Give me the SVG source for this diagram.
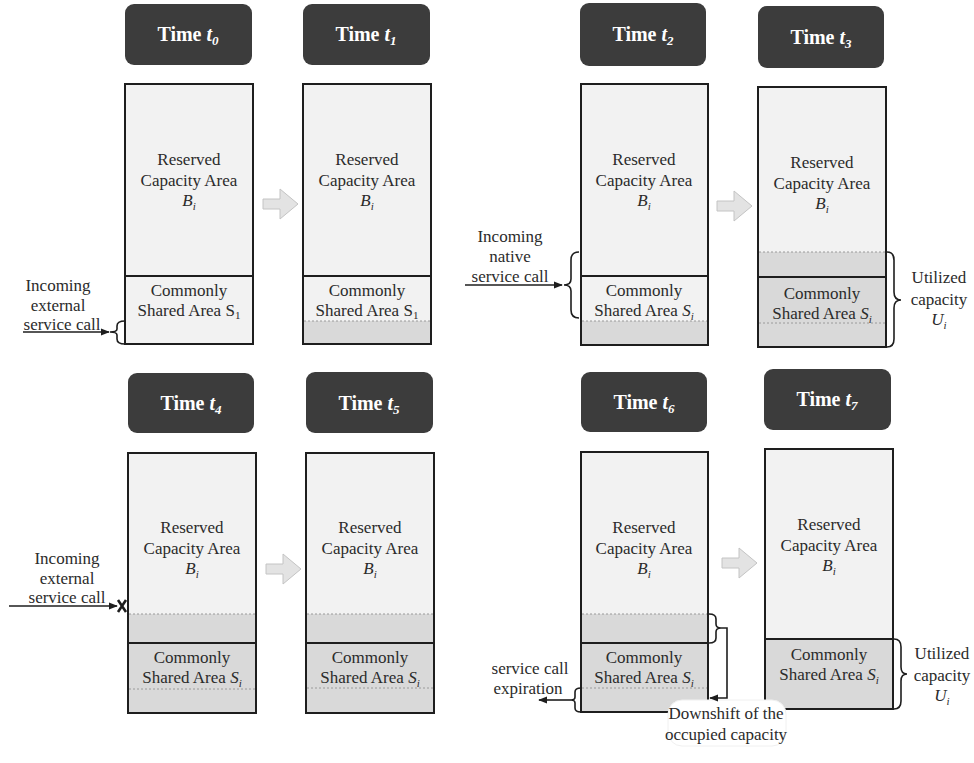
<svg xmlns="http://www.w3.org/2000/svg" width="974" height="763" viewBox="0 0 974 763">
<defs>
<style>
text{font-family:'Liberation Serif','Times New Roman','DejaVu Serif',serif;fill:#2b2b2b;font-size:17px;text-anchor:middle}
.hd{fill:#3c3c3c}
.ht{fill:#ffffff;font-size:20px;font-weight:bold}
.col{fill:#f2f2f2;stroke:#1e1e1e;stroke-width:2}
.gr{fill:#d9d9d9;stroke:none}
.div{stroke:#1e1e1e;stroke-width:2;fill:none}
.dash{stroke:#9a9a9a;stroke-width:1;stroke-dasharray:2 2;fill:none}
.bar{fill:#e3e3e3;stroke:#c4c4c4;stroke-width:1}
.ln{stroke:#1e1e1e;stroke-width:1.6;fill:none}
.it{font-style:italic}
</style>
<marker id="ah" viewBox="0 0 10 10" refX="9" refY="5" markerWidth="9" markerHeight="9" markerUnits="userSpaceOnUse" orient="auto">
<path d="M0,1 L10,5 L0,9 Z" fill="#1e1e1e"/>
</marker>
</defs>
<rect width="974" height="763" fill="#ffffff"/>

<g id="t0">
<rect class="hd" x="125" y="4" width="127" height="61" rx="9"/>
<text class="ht" x="188" y="41" font-family="Liberation Serif, serif">Time <tspan class="it">t</tspan><tspan class="it" font-size="13" dy="4">0</tspan></text>
<rect class="col" x="125" y="84" width="128" height="260"/>
<line class="div" x1="125" y1="276" x2="253" y2="276"/>
<text x="189" y="165">Reserved</text>
<text x="189" y="186">Capacity Area</text>
<text x="189" y="206"><tspan class="it">B</tspan><tspan class="it" font-size="11" dy="4">i</tspan></text>
<text x="189" y="296">Commonly</text>
<text x="189" y="316">Shared Area S<tspan font-size="11" dy="3">1</tspan></text>
</g>

<g id="t1">
<rect class="hd" x="303" y="4" width="127" height="61" rx="9"/>
<text class="ht" x="366" y="41">Time <tspan class="it">t</tspan><tspan class="it" font-size="13" dy="4">1</tspan></text>
<rect class="col" x="303" y="84" width="128" height="260"/>
<rect class="gr" x="304" y="321" width="126" height="22"/>
<line class="dash" x1="304" y1="321" x2="430" y2="321"/>
<line class="div" x1="303" y1="276" x2="431" y2="276"/>
<text x="367" y="165">Reserved</text>
<text x="367" y="186">Capacity Area</text>
<text x="367" y="206"><tspan class="it">B</tspan><tspan class="it" font-size="11" dy="4">i</tspan></text>
<text x="367" y="296">Commonly</text>
<text x="367" y="316">Shared Area S<tspan font-size="11" dy="3">1</tspan></text>
</g>

<g id="t2">
<rect class="hd" x="580" y="3" width="126" height="63" rx="9"/>
<text class="ht" x="643" y="41">Time <tspan class="it">t</tspan><tspan class="it" font-size="13" dy="4">2</tspan></text>
<rect class="col" x="581" y="84" width="127" height="261"/>
<rect class="gr" x="582" y="321" width="125" height="23"/>
<line class="dash" x1="582" y1="321" x2="707" y2="321"/>
<line class="div" x1="581" y1="276" x2="708" y2="276"/>
<text x="644" y="165">Reserved</text>
<text x="644" y="186">Capacity Area</text>
<text x="644" y="206"><tspan class="it">B</tspan><tspan class="it" font-size="11" dy="4">i</tspan></text>
<text x="644" y="296">Commonly</text>
<text x="644" y="316">Shared Area <tspan class="it">S</tspan><tspan class="it" font-size="11" dy="4">i</tspan></text>
</g>

<g id="t3">
<rect class="hd" x="758" y="6" width="126" height="62" rx="9"/>
<text class="ht" x="821" y="44">Time <tspan class="it">t</tspan><tspan class="it" font-size="13" dy="4">3</tspan></text>
<rect class="col" x="758" y="87" width="128" height="260"/>
<rect class="gr" x="759" y="252" width="126" height="94"/>
<line class="dash" x1="759" y1="252" x2="885" y2="252"/>
<line class="dash" x1="759" y1="323" x2="885" y2="323"/>
<line class="div" x1="758" y1="277" x2="886" y2="277"/>
<text x="822" y="168">Reserved</text>
<text x="822" y="189">Capacity Area</text>
<text x="822" y="209"><tspan class="it">B</tspan><tspan class="it" font-size="11" dy="4">i</tspan></text>
<text x="822" y="299">Commonly</text>
<text x="822" y="319">Shared Area <tspan class="it">S</tspan><tspan class="it" font-size="11" dy="4">i</tspan></text>
</g>

<g id="t4">
<rect class="hd" x="128" y="373" width="126" height="60" rx="9"/>
<text class="ht" x="191" y="410">Time <tspan class="it">t</tspan><tspan class="it" font-size="13" dy="4">4</tspan></text>
<rect class="col" x="128" y="453" width="128" height="260"/>
<rect class="gr" x="129" y="614" width="126" height="98"/>
<line class="dash" x1="129" y1="614" x2="255" y2="614"/>
<line class="dash" x1="129" y1="689" x2="255" y2="689"/>
<line class="div" x1="128" y1="643" x2="256" y2="643"/>
<text x="192" y="533">Reserved</text>
<text x="192" y="554">Capacity Area</text>
<text x="192" y="574"><tspan class="it">B</tspan><tspan class="it" font-size="11" dy="4">i</tspan></text>
<text x="192" y="663">Commonly</text>
<text x="192" y="683">Shared Area <tspan class="it">S</tspan><tspan class="it" font-size="11" dy="4">i</tspan></text>
</g>

<g id="t5">
<rect class="hd" x="306" y="372" width="127" height="61" rx="9"/>
<text class="ht" x="369" y="410">Time <tspan class="it">t</tspan><tspan class="it" font-size="13" dy="4">5</tspan></text>
<rect class="col" x="306" y="453" width="128" height="260"/>
<rect class="gr" x="307" y="614" width="126" height="98"/>
<line class="dash" x1="307" y1="614" x2="433" y2="614"/>
<line class="dash" x1="307" y1="688" x2="433" y2="688"/>
<line class="div" x1="306" y1="643" x2="434" y2="643"/>
<text x="370" y="533">Reserved</text>
<text x="370" y="554">Capacity Area</text>
<text x="370" y="574"><tspan class="it">B</tspan><tspan class="it" font-size="11" dy="4">i</tspan></text>
<text x="370" y="663">Commonly</text>
<text x="370" y="683">Shared Area <tspan class="it">S</tspan><tspan class="it" font-size="11" dy="4">i</tspan></text>
</g>

<g id="t6">
<rect class="hd" x="581" y="372" width="126" height="60" rx="9"/>
<text class="ht" x="644" y="409">Time <tspan class="it">t</tspan><tspan class="it" font-size="13" dy="4">6</tspan></text>
<rect class="col" x="581" y="452" width="127" height="260"/>
<rect class="gr" x="582" y="614" width="125" height="97"/>
<line class="dash" x1="582" y1="614" x2="707" y2="614"/>
<line class="dash" x1="582" y1="688" x2="707" y2="688"/>
<line class="div" x1="581" y1="643" x2="708" y2="643"/>
<text x="644" y="533">Reserved</text>
<text x="644" y="554">Capacity Area</text>
<text x="644" y="574"><tspan class="it">B</tspan><tspan class="it" font-size="11" dy="4">i</tspan></text>
<text x="644" y="663">Commonly</text>
<text x="644" y="683">Shared Area <tspan class="it">S</tspan><tspan class="it" font-size="11" dy="4">i</tspan></text>
</g>

<g id="t7">
<rect class="hd" x="764" y="369" width="127" height="61" rx="9"/>
<text class="ht" x="827" y="406">Time <tspan class="it">t</tspan><tspan class="it" font-size="13" dy="4">7</tspan></text>
<rect class="col" x="765" y="449" width="128" height="260"/>
<rect class="gr" x="766" y="639" width="126" height="69"/>
<line class="div" x1="765" y1="639" x2="893" y2="639"/>
<text x="829" y="530">Reserved</text>
<text x="829" y="551">Capacity Area</text>
<text x="829" y="571"><tspan class="it">B</tspan><tspan class="it" font-size="11" dy="4">i</tspan></text>
<text x="829" y="660">Commonly</text>
<text x="829" y="680">Shared Area <tspan class="it">S</tspan><tspan class="it" font-size="11" dy="4">i</tspan></text>
</g>

<g id="ann-t0">
<text x="58" y="291">Incoming</text>
<text x="58" y="311">external</text>
<text x="62" y="330">service call</text>
</g>
<g id="ann-t2">
<text x="510" y="242">Incoming</text>
<text x="510" y="262">native</text>
<text x="510" y="282">service call</text>
</g>
<g id="ann-t3">
<text x="939" y="283">Utilized</text>
<text x="939" y="305">capacity</text>
<text x="939" y="325"><tspan class="it">U</tspan><tspan class="it" font-size="11" dy="4">i</tspan></text>
</g>
<g id="ann-t4">
<text x="67" y="564">Incoming</text>
<text x="67" y="584">external</text>
<text x="67" y="603">service call</text>
</g>
<g id="ann-t6">
<rect x="668" y="700" width="118" height="46" rx="14" fill="#ffffff" stroke="#f0f0f0" stroke-width="1"/>
<text x="530" y="674">service call</text>
<text x="528" y="694">expiration</text>
<text x="726" y="719">Downshift of the</text>
<text x="726" y="740">occupied capacity</text>
</g>
<g id="ann-t7">
<text x="942" y="659">Utilized</text>
<text x="942" y="681">capacity</text>
<text x="942" y="701"><tspan class="it">U</tspan><tspan class="it" font-size="11" dy="4">i</tspan></text>
</g>

<g id="connectors">
<path class="bar" d="M263,199 L280,199 L280,189 L298,204 L280,219 L280,209 L263,209 Z"/>
<path class="bar" d="M717,201 L734,201 L734,191 L752,206 L734,221 L734,211 L717,211 Z"/>
<path class="bar" d="M266,564 L283,564 L283,554 L301,569 L283,584 L283,574 L266,574 Z"/>
<path class="bar" d="M722,558 L739,558 L739,548 L757,563 L739,578 L739,568 L722,568 Z"/>

<line class="ln" x1="23" y1="332" x2="109" y2="332" marker-end="url(#ah)"/>
<path class="ln" d="M125,321 Q117,321 117,326 L117,329 Q117,332 110,332 Q117,332 117,335 L117,339 Q117,344 125,344"/>

<line class="ln" x1="465" y1="285" x2="562" y2="285" marker-end="url(#ah)"/>
<path class="ln" d="M579,252 Q571,252 571,260 L571,279 Q571,285 564,285 Q571,285 571,291 L571,310 Q571,318 579,318"/>

<path class="ln" d="M887,252 Q894,252 894,260 L894,292 Q894,300 901,300 Q894,300 894,308 L894,339 Q894,347 887,347"/>

<line class="ln" x1="9" y1="606" x2="117" y2="606" marker-end="url(#ah)"/>
<path d="M118,600 L126,612 M126,600 L118,612" stroke="#1e1e1e" stroke-width="2.6" fill="none"/>

<path class="ln" d="M581,688 Q575,688 575,692 L575,697 Q575,700 571,700 Q575,700 575,703 L575,708 Q575,712 581,712"/>
<line class="ln" x1="571" y1="700" x2="539" y2="700" marker-end="url(#ah)"/>

<path class="ln" d="M709,614 Q716,614 716,619 L716,624 Q716,628 721,628 Q716,628 716,632 L716,638 Q716,643 709,643"/>
<path class="ln" d="M721,628 L727,628 L727,698 L710,698" marker-end="url(#ah)"/>

<path class="ln" d="M894,639 Q901,639 901,647 L901,667 Q901,674 907,674 Q901,674 901,681 L901,701 Q901,709 894,709"/>
</g>
</svg>
